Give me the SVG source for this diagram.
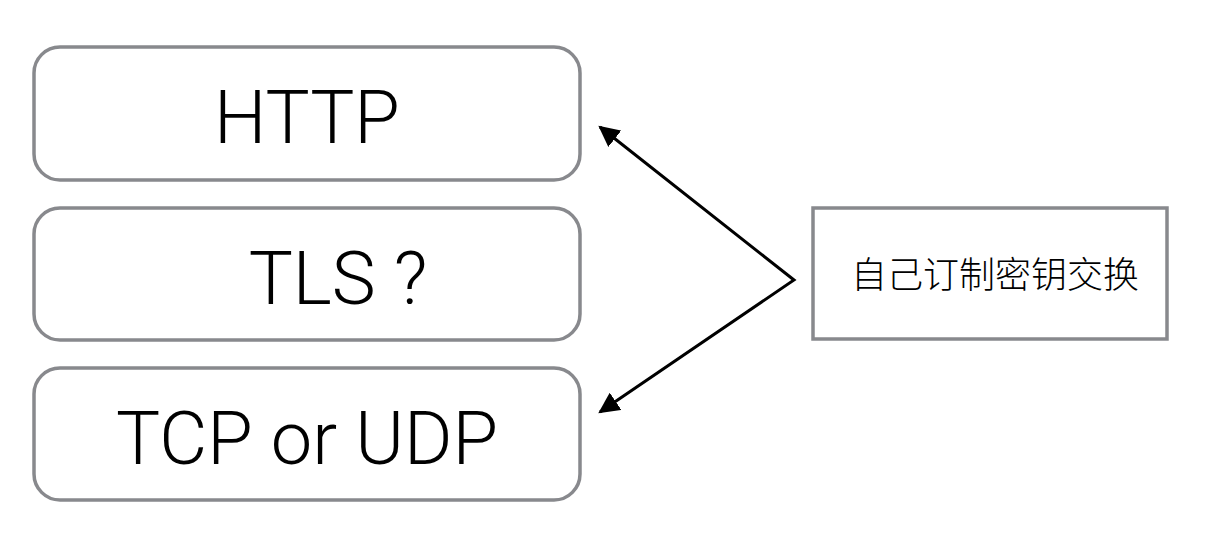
<svg xmlns="http://www.w3.org/2000/svg" width="1208" height="540" viewBox="0 0 1208 540">
<style>
.box{fill:#fff;stroke:#88898d;stroke-width:3.5}
.lbl{font-family:"Helvetica Neue",Roboto,"Liberation Sans",sans-serif;font-weight:300;font-size:74px;fill:#000;text-anchor:middle}
.cjk{font-family:"Noto Sans CJK SC",sans-serif;font-weight:300;font-size:36px;fill:#000;text-anchor:middle}
.conn{fill:none;stroke:#000;stroke-width:3}
</style>
<defs>
<marker id="ah" viewBox="0 0 10 10" refX="9" refY="5" markerWidth="7" markerHeight="7" markerUnits="strokeWidth" orient="auto-start-reverse">
<path d="M0,0 L10,5 L0,10 z" fill="#000"/>
</marker>
</defs>
<g id="http"><rect class="box" x="34" y="47" width="546" height="133" rx="26"/><text class="lbl" x="307" y="143">HTTP</text></g>
<g id="tls"><rect class="box" x="34" y="208" width="546" height="132" rx="26"/><text class="lbl" x="338" y="304">TLS ?</text></g>
<g id="tcp"><rect class="box" x="34" y="368" width="546" height="132" rx="26"/><text class="lbl" x="307" y="464">TCP or UDP</text></g>
<g id="custom"><rect class="box" x="813" y="208" width="354" height="131"/><text class="cjk" x="995" y="288">自己订制密钥交换</text></g>
<g id="connectors">
<polyline class="conn" points="600,127 794,280 600,412" marker-start="url(#ah)" marker-end="url(#ah)"/>
</g>
</svg>
